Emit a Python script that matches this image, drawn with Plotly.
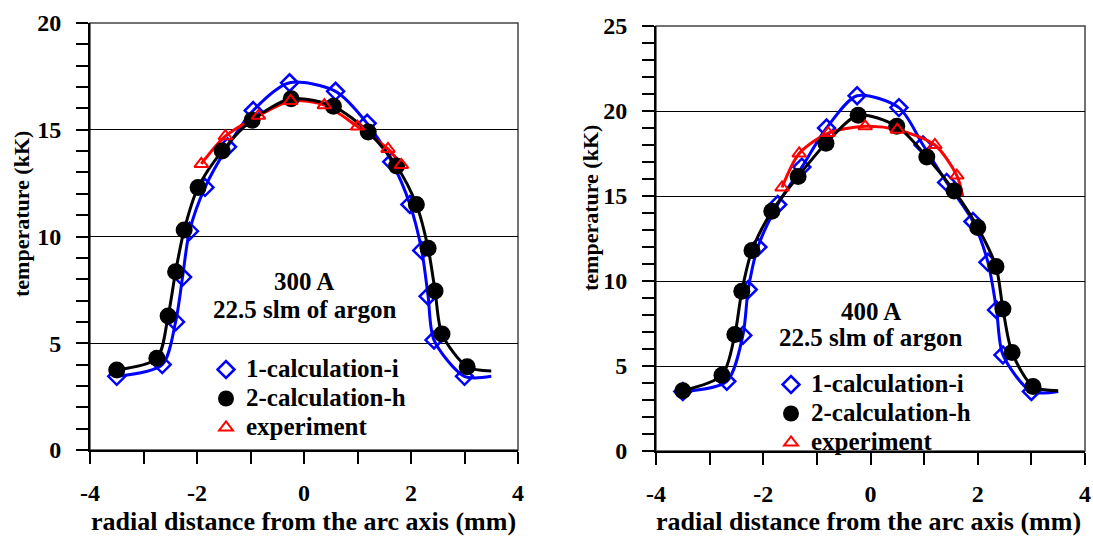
import plotly.graph_objects as go

# ---------------- data: 300 A panel ----------------
x_i_300 = [-3.5, -2.65, -2.4, -2.27, -2.14, -1.85, -1.43, -0.95, -0.27, 0.59, 1.18, 1.64, 1.98, 2.2, 2.32, 2.43, 3.0]
T_i_300 = [3.45, 4.0, 6.0, 8.1, 10.25, 12.3, 14.2, 15.9, 17.2, 16.8, 15.3, 13.5, 11.5, 9.35, 7.2, 5.15, 3.45]
x_h_300 = [-3.5, -2.75, -2.54, -2.4, -2.24, -1.98, -1.53, -0.97, -0.24, 0.55, 1.2, 1.73, 2.1, 2.32, 2.45, 2.58, 3.05]
T_h_300 = [3.75, 4.3, 6.28, 8.35, 10.3, 12.3, 14.0, 15.45, 16.45, 16.1, 14.9, 13.3, 11.5, 9.45, 7.45, 5.43, 3.9]
x_e_300 = [-1.92, -1.47, -0.85, -0.25, 0.38, 1.0, 1.57, 1.82]
T_e_300 = [13.4, 14.7, 15.65, 16.35, 16.15, 15.15, 14.1, 13.35]
# curve end points beyond last marker
x_i_300_end = [3.5]
T_i_300_end = [3.45]
x_h_300_end = [3.5]
T_h_300_end = [3.7]

# ---------------- data: 400 A panel ----------------
x_i_400 = [-3.5, -2.68, -2.38, -2.28, -2.1, -1.73, -1.28, -0.82, -0.25, 0.53, 0.98, 1.42, 1.91, 2.19, 2.35, 2.47, 3.0]
T_i_400 = [3.5, 4.1, 6.8, 9.5, 12.0, 14.5, 16.7, 19.0, 20.9, 20.2, 18.0, 15.8, 13.5, 11.1, 8.3, 5.65, 3.5]
x_h_400 = [-3.5, -2.77, -2.53, -2.4, -2.21, -1.84, -1.35, -0.83, -0.23, 0.49, 1.05, 1.56, 2.0, 2.34, 2.47, 2.64, 3.03]
T_h_400 = [3.55, 4.45, 6.85, 9.4, 11.8, 14.1, 16.15, 18.1, 19.75, 19.1, 17.3, 15.3, 13.15, 10.85, 8.35, 5.8, 3.8]
x_e_400 = [-1.65, -1.33, -0.79, -0.1, 0.5, 1.2, 1.61]
T_e_400 = [15.5, 17.5, 18.7, 19.1, 18.9, 18.0, 16.2]
x_i_400_end = [3.5]
T_i_400_end = [3.5]
x_h_400_end = [3.5]
T_h_400_end = [3.55]
x_e_400_end = [1.72]
T_e_400_end = [15.0]

series_names = ["1-calculation-i", "2-calculation-h", "experiment"]
x_tick_vals = [-4, -2, 0, 2, 4]
x_tick_text = ["-4", "-2", "0", "2", "4"]
x_minor_vals = [-4, -3, -2, -1, 0, 1, 2, 3, 4]
y_tick_vals_300 = [0, 5, 10, 15, 20]
y_tick_vals_400 = [0, 5, 10, 15, 20, 25]
panel_labels = [("300 A", "22.5 slm of argon"), ("400 A", "22.5 slm of argon")]
y_title = "temperature (kK)"
x_title = "radial distance from the arc axis (mm)"

FONT = "Liberation Serif"
BLUE = "#0000ff"
RED = "#ff0000"
BLACK = "#000000"

W, H = 1093, 539
px = lambda v: v / W
py = lambda v: 1 - v / H

def bold(s, size=None):
    if size:
        return f"<b><span style='font-size:{size}px'>{s}</span></b>"
    return f"<b>{s}</b>"

fig = go.Figure()

def add_panel(xa, ya, legend, xi, Ti, xie, Tie, xh, Th, xhe, The, xe, Te, xee, Tee):
    fig.add_trace(go.Scatter(x=xi + xie, y=Ti + Tie, mode="lines", line=dict(color=BLUE, width=3, shape="spline", smoothing=0.8),
                             xaxis=xa, yaxis=ya, showlegend=False, hoverinfo="skip"))
    fig.add_trace(go.Scatter(x=xi, y=Ti, mode="markers", name=bold(series_names[0], 25), legend=legend,
                             marker=dict(symbol="diamond-open", size=13, color=BLUE, line=dict(width=2.5, color=BLUE)),
                             xaxis=xa, yaxis=ya))
    fig.add_trace(go.Scatter(x=xe + xee, y=Te + Tee, mode="lines", line=dict(color=RED, width=3, shape="spline", smoothing=0.8),
                             xaxis=xa, yaxis=ya, showlegend=False, hoverinfo="skip"))
    fig.add_trace(go.Scatter(x=xh + xhe, y=Th + The, mode="lines", line=dict(color=BLACK, width=3, shape="spline", smoothing=0.8),
                             xaxis=xa, yaxis=ya, showlegend=False, hoverinfo="skip"))
    fig.add_trace(go.Scatter(x=xh, y=Th, mode="markers", name=bold(series_names[1], 25), legend=legend,
                             marker=dict(symbol="circle", size=17, color=BLACK),
                             xaxis=xa, yaxis=ya))
    fig.add_trace(go.Scatter(x=xe, y=Te, mode="markers", name=bold(series_names[2], 25), legend=legend,
                             marker=dict(symbol="triangle-up-open", size=12, color=RED, line=dict(width=2, color=RED)),
                             xaxis=xa, yaxis=ya))

add_panel("x", "y", "legend", x_i_300, T_i_300, x_i_300_end, T_i_300_end,
          x_h_300, T_h_300, x_h_300_end, T_h_300_end, x_e_300, T_e_300, [], [])
add_panel("x2", "y2", "legend2", x_i_400, T_i_400, x_i_400_end, T_i_400_end,
          x_h_400, T_h_400, x_h_400_end, T_h_400_end, x_e_400, T_e_400, x_e_400_end, T_e_400_end)

tickfont = dict(family=FONT, size=24, color=BLACK)

def xaxis_cfg(domain, anchor):
    return dict(domain=domain, anchor=anchor, range=[-4, 4], tickmode="array", tickvals=x_tick_vals,
                ticktext=[bold(t) for t in x_tick_text],
                ticks="outside", ticklen=12, tickwidth=2, tickcolor=BLACK,
                minor=dict(tickmode="array", tickvals=x_minor_vals, ticks="outside", ticklen=12, tickwidth=2, tickcolor=BLACK),
                showline=True, linewidth=2, linecolor=BLACK, showgrid=False, zeroline=False,
                tickfont=tickfont, ticklabelstandoff=8, ticklabeloverflow="allow", fixedrange=True)

def yaxis_cfg(domain, anchor, top, vals):
    return dict(domain=domain, anchor=anchor, range=[0, top], tickmode="array", tickvals=vals,
                ticktext=[bold(str(v)) for v in vals],
                ticks="outside", ticklen=12, tickwidth=2, tickcolor=BLACK,
                minor=dict(tickmode="array", tickvals=list(range(0, top + 1)), ticks="outside", ticklen=12, tickwidth=2,
                           tickcolor=BLACK, showgrid=False),
                showline=True, linewidth=2, linecolor=BLACK, showgrid=True, gridcolor=BLACK, gridwidth=1,
                zeroline=False, tickfont=tickfont, ticklabelstandoff=10, ticklabeloverflow="allow", fixedrange=True)

legfont = dict(family=FONT, size=20, color=BLACK)

fig.update_layout(
    width=W, height=H, margin=dict(l=0, r=0, t=0, b=0, autoexpand=False),
    paper_bgcolor="white", plot_bgcolor="white",
    xaxis=xaxis_cfg([px(90), px(518)], "y"),
    yaxis=yaxis_cfg([py(450), py(23)], "x", 20, y_tick_vals_300),
    xaxis2=xaxis_cfg([px(656), px(1085)], "y2"),
    yaxis2=yaxis_cfg([py(451), py(26)], "x2", 25, y_tick_vals_400),
    legend=dict(x=px(206), y=py(350), xanchor="left", yanchor="top", bgcolor="rgba(0,0,0,0)",
                font=legfont, itemsizing="trace"),
    legend2=dict(x=px(771), y=py(365), xanchor="left", yanchor="top", bgcolor="rgba(0,0,0,0)",
                 font=legfont, itemsizing="trace"),
    showlegend=True,
)

for xr, yr in [("x domain", "y domain"), ("x2 domain", "y2 domain")]:
    fig.add_shape(type="rect", xref=xr, yref=yr, x0=0, x1=1, y0=0, y1=1,
                  line=dict(color="#444444", width=1.5), layer="below")

annfont = dict(family=FONT, size=25, color=BLACK)
for (l1, l2), xr, yr, yv1, yv2 in [(panel_labels[0], "x", "y", 7.9, 6.6), (panel_labels[1], "x2", "y2", 8.2, 6.65)]:
    fig.add_annotation(x=0, y=yv1, xref=xr, yref=yr, text=bold(l1), showarrow=False, font=annfont,
                       xanchor="center", yanchor="middle")
    fig.add_annotation(x=0, y=yv2, xref=xr, yref=yr, text=bold(l2), showarrow=False, font=annfont,
                       xanchor="center", yanchor="middle")

titlefont = dict(family=FONT, size=26, color=BLACK)
for xc in [px(303), px(868)]:
    fig.add_annotation(x=xc, y=py(521), xref="paper", yref="paper", text=bold(x_title), showarrow=False,
                       font=titlefont, xanchor="center", yanchor="middle")
for xc, yc in [(px(21), py(214)), (px(590), py(208))]:
    fig.add_annotation(x=xc, y=yc, xref="paper", yref="paper", text=bold(y_title), textangle=-90, showarrow=False,
                       font=dict(family=FONT, size=22, color=BLACK), xanchor="center", yanchor="middle")

fig.write_html("out.html", config={"displayModeBar": False},
               post_script="document.body.style.margin='0';document.body.style.overflow='hidden';")
